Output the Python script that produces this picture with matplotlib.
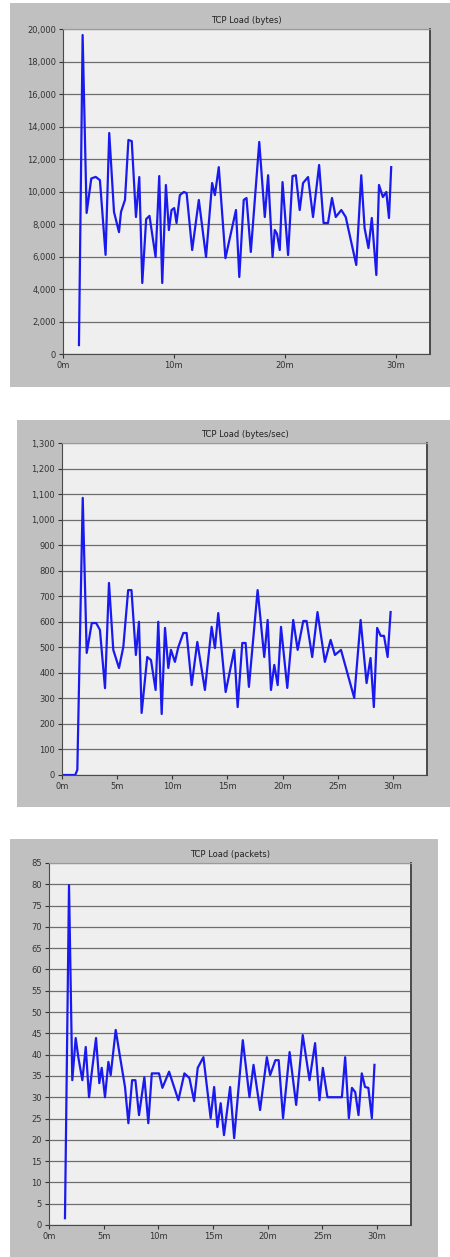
import matplotlib.pyplot as plt
from matplotlib.patches import Rectangle
from matplotlib.ticker import FuncFormatter
import numpy as np

# TCP Load (bytes)
bytes_t = [1.44, 1.77, 2.13, 2.55, 2.95, 3.33, 3.84, 4.17, 4.6, 5.05, 5.23, 5.59, 5.9, 6.2,
           6.58, 6.88, 7.15, 7.5, 7.8, 8.35, 8.68, 8.95, 9.28, 9.55, 9.79, 10.03, 10.24,
           10.54, 10.9, 11.15, 11.65, 12.25, 12.9, 13.45, 13.7, 14.05, 14.65, 15.6, 15.9,
           16.3, 16.55, 16.94, 17.7, 18.2, 18.5, 18.9, 19.1, 19.3, 19.55, 19.8, 20.3, 20.7,
           21.0, 21.35, 21.65, 22.1, 22.55, 23.1, 23.5, 23.9, 24.26, 24.6, 25.1, 25.5,
           26.45, 26.9, 27.2, 27.55, 27.85, 28.26, 28.5, 28.85, 29.16, 29.4, 29.6]
bytes_v = [550, 19630, 8680, 10800, 10900, 10700, 6100, 13600, 8740, 7500, 8740, 9480,
           13170, 13100, 8430, 10890, 4370, 8300, 8500, 5970, 10950, 4370, 10400, 7630,
           8860, 8980, 8060, 9780, 9970, 9900, 6400, 9480, 5970, 10520, 9780, 11500, 5900,
           8860, 4740, 9480, 9600, 6280, 13050, 8430, 11000, 5970, 7630, 7400, 6400, 10580,
           6090, 10950, 11000, 8860, 10520, 10890, 8430, 11630, 8060, 8060, 9600, 8430,
           8860, 8430, 5480, 11000, 7750, 6520, 8370, 4860, 10400, 9660, 9970, 8370, 11500]

# TCP Load (bytes/sec)
rate_t = [0.0, 1.2, 1.39, 1.88, 2.24, 2.7, 3.1, 3.44, 3.9, 4.26, 4.65, 5.17, 5.56, 6.0,
          6.3, 6.7, 6.98, 7.22, 7.73, 8.07, 8.49, 8.73, 9.04, 9.34, 9.64, 9.88, 10.24,
          10.55, 11.0, 11.3, 11.76, 12.27, 12.96, 13.57, 13.87, 14.17, 14.84, 15.62, 15.93,
          16.35, 16.65, 16.95, 17.74, 18.34, 18.65, 18.95, 19.25, 19.56, 19.86, 20.43,
          20.97, 21.37, 21.88, 22.18, 22.69, 23.17, 23.84, 24.36, 24.75, 25.3, 26.5, 27.08,
          27.62, 27.98, 28.28, 28.58, 28.9, 29.2, 29.53, 29.8]
rate_v = [0, 0, 20, 1085, 478, 595, 595, 568, 340, 752, 490, 419, 501, 724, 724, 470, 600,
          243, 462, 450, 333, 600, 239, 576, 419, 490, 443, 501, 556, 556, 352, 521, 333,
          580, 497, 634, 325, 490, 266, 517, 517, 345, 724, 462, 607, 333, 431, 352, 580,
          341, 607, 490, 603, 603, 462, 638, 443, 529, 470, 490, 302, 607, 360, 458, 266,
          576, 545, 545, 462, 638]

# TCP Load (packets)
pkt_t = [1.46, 1.83, 2.13, 2.44, 2.68, 3.05, 3.36, 3.66, 3.9, 4.3, 4.6, 4.82, 5.12, 5.43,
         5.64, 6.1, 6.5, 6.95, 7.26, 7.6, 7.9, 8.23, 8.72, 9.08, 9.4, 9.75, 10.06, 10.37,
         10.98, 11.83, 12.38, 12.84, 13.27, 13.6, 14.12, 14.78, 15.1, 15.4, 15.7, 16.0,
         16.56, 16.93, 17.72, 18.33, 18.7, 19.3, 19.92, 20.22, 20.7, 21.0, 21.4, 22.0,
         22.6, 23.2, 23.82, 24.33, 24.73, 25.04, 25.46, 25.8, 26.5, 26.78, 27.08, 27.42,
         27.7, 28.0, 28.3, 28.6, 28.9, 29.2, 29.52, 29.76]
pkt_v = [1.6, 79.8, 34, 43.9, 39.4, 34, 41.8, 30, 35.6, 43.9, 33.3, 36.9, 30, 38.3, 35.2,
         45.8, 39.4, 32.4, 23.9, 34, 34, 25.8, 34.7, 23.9, 35.6, 35.6, 35.6, 32.2, 36,
         29.3, 35.6, 34.5, 29.1, 36.9, 39.4, 25.1, 32.4, 23, 28.6, 21.1, 32.4, 20.4, 43.4,
         30, 37.6, 27, 39.4, 35.2, 38.7, 38.7, 25.1, 40.6, 28.2, 44.6, 34, 42.7, 29.3, 36.9,
         30, 30, 30, 30, 39.4, 25.1, 32.2, 31.2, 25.8, 35.6, 32.4, 32.2, 25.1, 37.6]

W, H = 450, 1257
fig = plt.figure(figsize=(W / 100, H / 100), dpi=100)
fig.patch.set_facecolor("white")


def gray_box(l, t, r, b):
    fig.add_artist(Rectangle((l / W, 1 - b / H), (r - l) / W, (b - t) / H,
                             transform=fig.transFigure, facecolor="#c0c0c0",
                             edgecolor="none", zorder=0))


def panel(box, t, v, title, ymax, ystep, xticks):
    l, t0, r, b = box
    ax = fig.add_axes([l / W, 1 - b / H, (r - l) / W, (b - t0) / H])
    ax.set_facecolor("#efefef")
    ax.plot(t, v, color="#1a1aee", lw=1.6, solid_joinstyle="round")
    ax.set_xlim(0, 33.1)
    ax.set_ylim(0, ymax)
    ax.set_yticks(np.arange(0, ymax + 1, ystep))
    ax.yaxis.set_major_formatter(FuncFormatter(lambda x, p: f"{int(x):,}"))
    ax.set_xticks(xticks)
    ax.set_xticklabels([f"{x}m" for x in xticks])
    ax.yaxis.grid(True, color="#6e6e6e", lw=0.9)
    ax.set_axisbelow(True)
    ax.tick_params(labelsize=6, colors="#333333", length=3, width=0.8, pad=2)
    for s in ["left", "bottom", "right"]:
        ax.spines[s].set_color("#4a4a4a")
    ax.spines["right"].set_linewidth(1.4)
    ax.spines["top"].set_color("#9a9a9a")
    ax.set_title(title, fontsize=6, color="#222222", pad=4)
    return ax


gray_box(10, 3, 450, 387)
panel((63, 29, 430, 354), bytes_t, bytes_v, "TCP Load (bytes)", 20000, 2000,
      [0, 10, 20, 30])

gray_box(17, 420, 450, 807)
panel((62, 443, 427, 775), rate_t, rate_v, "TCP Load (bytes/sec)", 1300, 100,
      [0, 5, 10, 15, 20, 25, 30])

gray_box(10, 839, 438, 1257)
panel((49, 863, 411, 1225), pkt_t, pkt_v, "TCP Load (packets)", 85, 5,
      [0, 5, 10, 15, 20, 25, 30])

fig.savefig("out.png", dpi=100)
